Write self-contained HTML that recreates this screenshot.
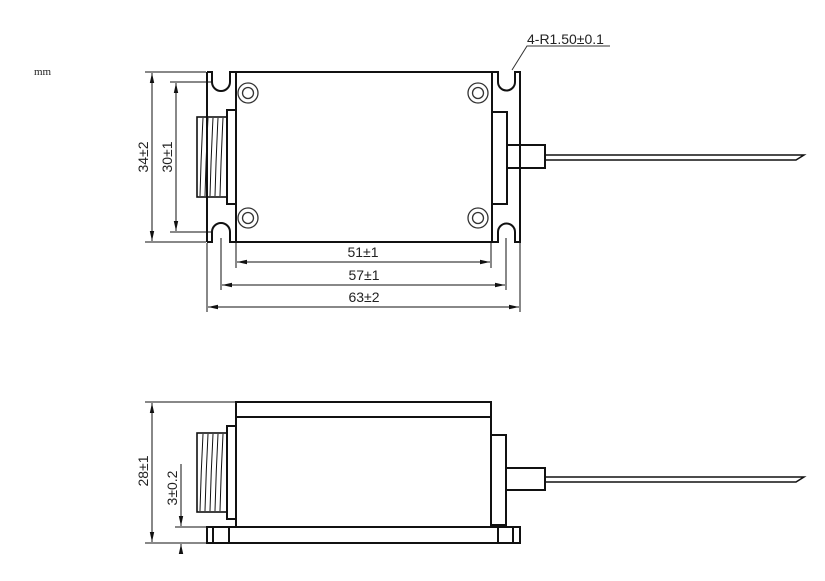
<!DOCTYPE html>
<html><head><meta charset="utf-8"><style>
html,body{margin:0;padding:0;background:#fff}
svg{display:block}
text{font-family:"Liberation Sans",sans-serif;font-size:14px;fill:#222}
</style></head><body>
<svg width="825" height="581" viewBox="0 0 825 581" xmlns="http://www.w3.org/2000/svg">
<defs>
<marker id="a" markerWidth="10" markerHeight="6" refX="10" refY="3" orient="auto-start-reverse" markerUnits="userSpaceOnUse"><path d="M0,0.8 L10,3 L0,5.2 z" fill="#111"/></marker>
</defs>
<text x="34" y="75" style="font-family:'Liberation Serif',serif;font-size:11px">mm</text>

<!-- TOP VIEW -->
<g stroke="#111" stroke-width="2" fill="none">
<path d="M207,72 H212 V82 A9,9 0 0 0 230,82 V72 H236"/>
<path d="M207,242 H212 V232 A9,9 0 0 1 230,232 V242 H236"/>
<line x1="207" y1="72" x2="207" y2="242"/>
<path d="M492,72 H498 V82 A8.5,8.5 0 0 0 515,82 V72 H520 V242 H515 V232 A8.5,8.5 0 0 0 498,232 V242 H492"/>
<rect x="236" y="72" width="256" height="170"/>
<rect x="227" y="110" width="9" height="94"/>
<rect x="492" y="112" width="15" height="92"/>
<rect x="507" y="145" width="38" height="23"/>
</g>
<g stroke="#333" stroke-width="1.3" fill="none">
<circle cx="248" cy="93" r="10"/><circle cx="248" cy="93" r="5.5"/>
<circle cx="478" cy="93" r="10"/><circle cx="478" cy="93" r="5.5"/>
<circle cx="248" cy="218" r="10"/><circle cx="248" cy="218" r="5.5"/>
<circle cx="478" cy="218" r="10"/><circle cx="478" cy="218" r="5.5"/>
</g>
<g stroke="#111" fill="none">
<rect x="197" y="117" width="30" height="80" stroke-width="1.6"/>
<g stroke-width="1"><path d="M203,118 Q201,157 200,196"/><path d="M208,118 Q206,157 205,196"/><path d="M213,118 Q211,157 210,196"/><path d="M218,118 Q216,157 215,196"/><path d="M223,118 Q221,157 220,196"/></g>
<path d="M545,155 H804 L796,160 H545" stroke-width="1.5"/>
</g>
<!-- dims top -->
<g stroke="#111" stroke-width="1" fill="none">
<line x1="145" y1="72" x2="206" y2="72"/><line x1="145" y1="242" x2="206" y2="242"/>
<line x1="170" y1="82" x2="212" y2="82"/><line x1="170" y1="232" x2="212" y2="232"/>
<line x1="152" y1="73" x2="152" y2="241" marker-start="url(#a)" marker-end="url(#a)"/>
<line x1="176" y1="83" x2="176" y2="231" marker-start="url(#a)" marker-end="url(#a)"/>
<line x1="236" y1="243" x2="236" y2="268"/><line x1="491" y1="243" x2="491" y2="268"/>
<line x1="221" y1="238" x2="221" y2="290"/><line x1="506" y1="238" x2="506" y2="290"/>
<line x1="207" y1="243" x2="207" y2="312"/><line x1="520" y1="243" x2="520" y2="312"/>
<line x1="237" y1="262" x2="490" y2="262" marker-start="url(#a)" marker-end="url(#a)"/>
<line x1="222" y1="285" x2="505" y2="285" marker-start="url(#a)" marker-end="url(#a)"/>
<line x1="208" y1="307" x2="519" y2="307" marker-start="url(#a)" marker-end="url(#a)"/>
<path d="M610,46 H527 L512,70" stroke="#333"/>
</g>
<text x="363" y="257" text-anchor="middle">51±1</text>
<text x="364" y="280" text-anchor="middle">57±1</text>
<text x="364" y="302" text-anchor="middle">63±2</text>
<text transform="translate(148,157) rotate(-90)" text-anchor="middle">34±2</text>
<text transform="translate(172,157) rotate(-90)" text-anchor="middle">30±1</text>
<text x="527" y="44">4-R1.50±0.1</text>

<!-- SIDE VIEW -->
<g stroke="#111" stroke-width="2" fill="none">
<rect x="236" y="402" width="255" height="15"/>
<rect x="236" y="417" width="255" height="110"/>
<rect x="207" y="527" width="313" height="16"/>
<line x1="213" y1="527" x2="213" y2="543"/><line x1="229" y1="527" x2="229" y2="543"/>
<line x1="498" y1="527" x2="498" y2="543"/><line x1="513" y1="527" x2="513" y2="543"/>
<rect x="227" y="426" width="9" height="93"/>
<rect x="491" y="435" width="15" height="90"/>
<rect x="506" y="468" width="39" height="22"/>
</g>
<g stroke="#111" fill="none">
<rect x="197" y="433" width="30" height="79" stroke-width="1.6"/>
<g stroke-width="1"><path d="M203,434 Q201,472 200,511"/><path d="M208,434 Q206,472 205,511"/><path d="M213,434 Q211,472 210,511"/><path d="M218,434 Q216,472 215,511"/><path d="M223,434 Q221,472 220,511"/></g>
<path d="M545,477 H804 L796,482 H545" stroke-width="1.5"/>
</g>
<g stroke="#111" stroke-width="1" fill="none">
<line x1="145" y1="402" x2="235" y2="402"/>
<line x1="145" y1="543" x2="206" y2="543"/>
<line x1="175" y1="527" x2="206" y2="527"/>
<line x1="152" y1="403" x2="152" y2="542" marker-start="url(#a)" marker-end="url(#a)"/>
<line x1="181" y1="464" x2="181" y2="526" marker-end="url(#a)"/>
<line x1="181" y1="552" x2="181" y2="544" marker-end="url(#a)"/>
</g>
<text transform="translate(148,471) rotate(-90)" text-anchor="middle">28±1</text>
<text transform="translate(177,488) rotate(-90)" text-anchor="middle">3±0.2</text>
</svg>
</body></html>
